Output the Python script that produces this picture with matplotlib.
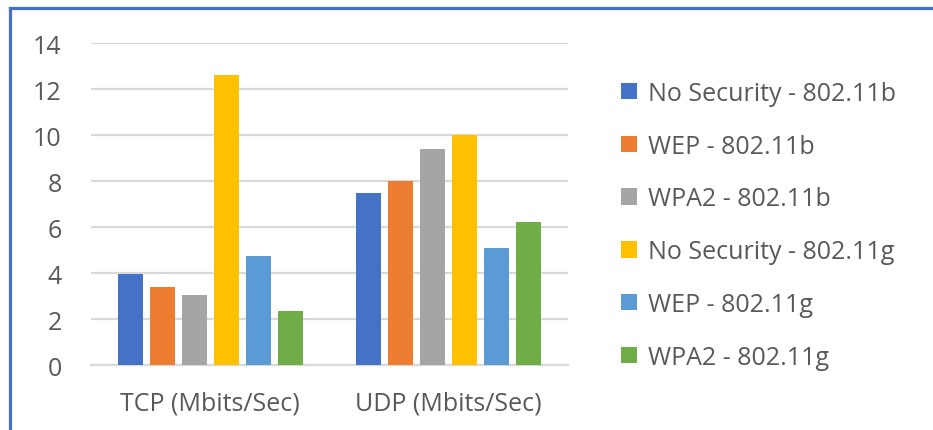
import numpy as np
import matplotlib
matplotlib.use("Agg")
import matplotlib.pyplot as plt
from matplotlib.lines import Line2D
from matplotlib.patches import Patch

categories = ["TCP (Mbits/Sec)", "UDP (Mbits/Sec)"]
series_names = [
    "No Security - 802.11b",
    "WEP - 802.11b",
    "WPA2 - 802.11b",
    "No Security - 802.11g",
    "WEP - 802.11g",
    "WPA2 - 802.11g",
]
no_sec_b = [3.95, 7.5]
wep_b = [3.4, 8.0]
wpa2_b = [3.05, 9.4]
no_sec_g = [12.6, 10.0]
wep_g = [4.75, 5.1]
wpa2_g = [2.35, 6.2]
series_values = [no_sec_b, wep_b, wpa2_b, no_sec_g, wep_g, wpa2_g]
colors = ["#4472C4", "#ED7D31", "#A5A5A5", "#FFC000", "#5B9BD5", "#70AD47"]
yticks = [0, 2, 4, 6, 8, 10, 12, 14]

text_color = "#595959"
plt.rcParams["font.family"] = ["Open Sans", "DejaVu Sans"]

fig = plt.figure(figsize=(933 / 100, 431 / 100), dpi=100)
ax = fig.add_axes([0.0975, 0.1508, 0.5113, 0.747])

x = np.arange(len(categories))
slot = 0.134
width = 0.105
for i, (vals, col) in enumerate(zip(series_values, colors)):
    offset = (i - 2.5) * slot
    ax.bar(x + offset, vals, width=width, color=col, zorder=3)

ax.set_xlim(-0.5, 1.5)
ax.set_ylim(0, 14)
ax.set_yticks(yticks)
ax.set_yticklabels([str(t) for t in yticks])
ax.set_xticks(x)
ax.set_xticklabels(categories)
ax.grid(axis="y", color="#D9D9D9", linewidth=1.6, zorder=0)
for s in ["top", "right", "left"]:
    ax.spines[s].set_visible(False)
ax.spines["bottom"].set_color("#D9D9D9")
ax.spines["bottom"].set_linewidth(1.6)
ax.tick_params(axis="both", length=0, colors=text_color, labelsize=18)
ax.tick_params(axis="y", pad=21)
ax.tick_params(axis="x", pad=18)

handles = [Patch(facecolor=c, edgecolor="none") for c in colors]
fig.legend(handles, series_names, loc="upper left",
           bbox_to_anchor=(0.655, 0.833), frameon=False,
           fontsize=18, labelcolor=text_color,
           handlelength=0.64, handleheight=0.64, handletextpad=0.42,
           labelspacing=1.11, borderaxespad=0)

# blue chart border (top and left visible)
fig.add_artist(Line2D([0.0102, 1.0], [0.978, 0.978], color="#4472C4",
                      linewidth=2.3, transform=fig.transFigure))
fig.add_artist(Line2D([0.0102, 0.0102], [0.0, 0.978], color="#4472C4",
                      linewidth=2.3, transform=fig.transFigure))

fig.savefig("out.png", dpi=100)
